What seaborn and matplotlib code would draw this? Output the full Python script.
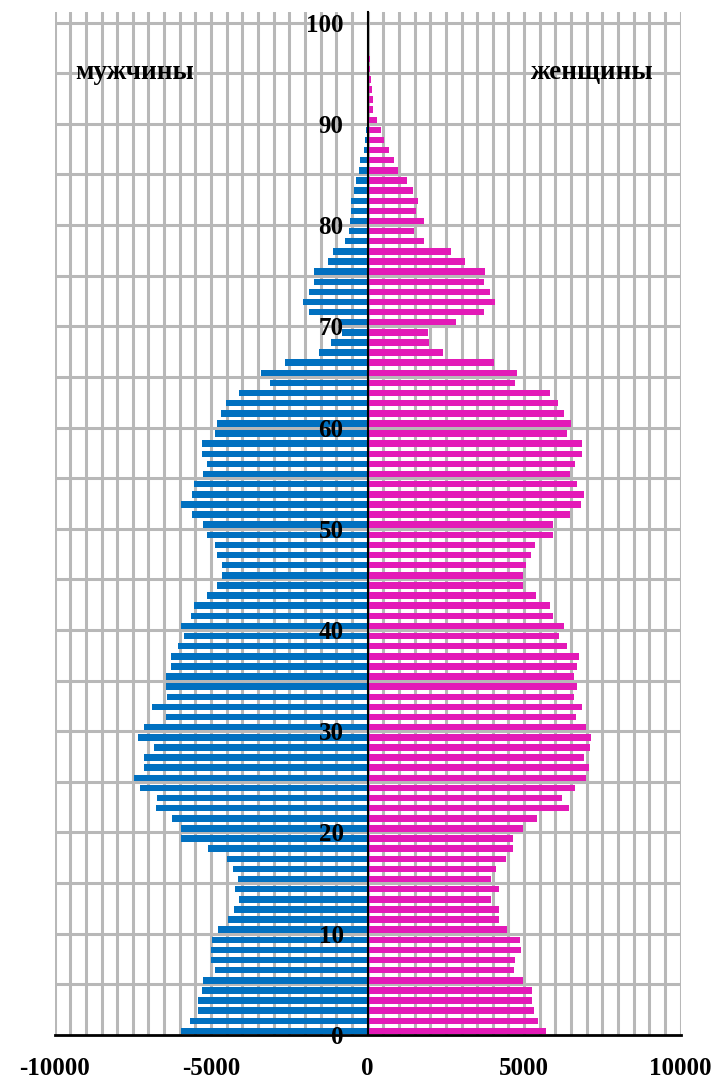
import numpy as np
import pandas as pd
import matplotlib
matplotlib.use("Agg")
import matplotlib.pyplot as plt
from matplotlib.ticker import MultipleLocator
import seaborn as sns

# one value per age, 0..100
ages = np.arange(0, 101)
men = [5950, 5660, 5420, 5420, 5300, 5250, 4890, 5010, 5010, 4970,
       4770, 4475, 4265, 4105, 4235, 4155, 4300, 4500, 5100, 5960,
       5960, 6250, 6770, 6720, 7260, 7470, 7140, 7140, 6810, 7340,
       7140, 6450, 6880, 6400, 6430, 6430, 6265, 6265, 6060, 5860,
       5950, 5650, 5540, 5135, 4800, 4640, 4640, 4810, 4890, 5135,
       5260, 5615, 5950, 5625, 5540, 5260, 5135, 5290, 5290, 4890,
       4810, 4675, 4520, 4105, 3120, 3410, 2650, 1545, 1170, 820,
       900, 1860, 2075, 1860, 1700, 1700, 1255, 1090, 730, 605,
       560, 520, 520, 420, 370, 270, 250, 120, 70, 50,
       30, 20, 15, 10, 10, 5, 5, 5, 5, 5, 5]
women = [5690, 5440, 5330, 5240, 5240, 4970, 4670, 4700, 4910, 4870,
         4465, 4210, 4210, 3935, 4210, 3935, 4090, 4410, 4640, 4660,
         4955, 5400, 6440, 6225, 6620, 6990, 7070, 6910, 7110, 7150,
         6990, 6670, 6850, 6580, 6700, 6580, 6700, 6745, 6380, 6125,
         6290, 5930, 5835, 5395, 4950, 4950, 5060, 5230, 5350, 5930,
         5930, 6455, 6810, 6900, 6690, 6455, 6610, 6855, 6855, 6375,
         6490, 6285, 6085, 5840, 4700, 4775, 4040, 2415, 1965, 1920,
         2820, 3710, 4080, 3915, 3710, 3755, 3105, 2660, 1790, 1470,
         1790, 1540, 1595, 1445, 1265, 960, 840, 680, 520, 415,
         310, 180, 180, 130, 100, 90, 70, 60, 50, 40, 40]
age_ticks = list(range(0, 101, 10))
x_ticks = [-10000, -5000, 0, 5000, 10000]
label_men = "мужчины"
label_women = "женщины"

sns.set_style("white")
plt.rcParams["font.family"] = ["Liberation Serif", "DejaVu Serif"]
plt.rcParams["axes.unicode_minus"] = False
plt.rcParams["text.color"] = "black"
plt.rcParams["xtick.color"] = "black"
plt.rcParams["ytick.color"] = "black"
plt.rcParams["xtick.labelcolor"] = "black"
plt.rcParams["ytick.labelcolor"] = "black"

# long table, men negative; bars sit in the upper part of each year band
df = pd.DataFrame({
    "pos": np.concatenate([ages, ages]) + 0.4,
    "value": np.concatenate([-np.array(men), np.array(women)]),
    "sex": [label_men] * len(ages) + [label_women] * len(ages),
})

fig = plt.figure(figsize=(7.2, 10.86), dpi=100)
ax = fig.add_axes([0.0758, 0.047, 0.8695, 0.942])

sns.barplot(data=df, x="value", y="pos", hue="sex", orient="y",
            native_scale=True, dodge=False, width=0.64, errorbar=None,
            palette={label_men: "#0070C0", label_women: "#E31AB7"},
            saturation=1, legend=False, linewidth=0, ax=ax, zorder=2)

ax.set_xlim(-10000, 10000)
ax.set_ylim(0, 101.05)
ax.set_xlabel("")
ax.set_ylabel("")

# grey grid, behind the bars
grid_col = "#B8B8B8"
for gx in np.arange(-10000, 10001, 500):
    ax.axvline(gx, color=grid_col, lw=2.2, zorder=0)
for gy in range(5, 101, 5):
    ax.axhline(gy, color=grid_col, lw=2.2, zorder=0)

# axes: vertical one through zero
for s in ["top", "right"]:
    ax.spines[s].set_visible(False)
ax.spines["left"].set_position(("data", 0))
ax.spines["left"].set_linewidth(1.5)
ax.spines["left"].set_color("black")
ax.spines["left"].set_zorder(4)
ax.spines["bottom"].set_linewidth(2)
ax.spines["bottom"].set_color("black")
ax.xaxis.set_zorder(5)
ax.yaxis.set_zorder(5)

ax.set_xticks(x_ticks)
ax.set_xticklabels([str(t) for t in x_ticks])
ax.set_yticks(age_ticks)
ax.set_yticklabels([str(t) for t in age_ticks])
ax.yaxis.set_minor_locator(MultipleLocator(1))

ax.tick_params(axis="x", which="major", direction="inout", length=10,
               width=1.5, color="black", pad=11, labelsize=18)
ax.tick_params(axis="y", which="major", direction="inout", length=11,
               width=1.5, color="black", pad=11.8, labelsize=18)
ax.tick_params(axis="y", which="minor", direction="inout", length=5,
               width=1.4, color="black")
for lab in ax.get_xticklabels() + ax.get_yticklabels():
    lab.set_fontweight("bold")

ax.text(-7430, 94.4, label_men, ha="center", va="baseline",
        fontsize=19.5, fontweight="bold")
ax.text(7170, 94.4, label_women, ha="center", va="baseline",
        fontsize=19.5, fontweight="bold")

fig.savefig("out.png", dpi=100)
